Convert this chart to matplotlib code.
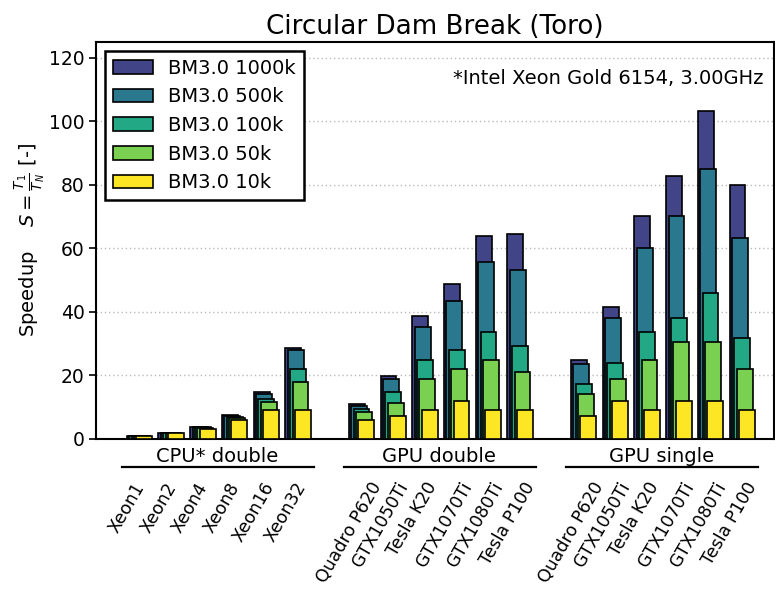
import numpy as np
import matplotlib
matplotlib.use("Agg")
import matplotlib.pyplot as plt

# categories
cpu_labels = ["Xeon1", "Xeon2", "Xeon4", "Xeon8", "Xeon16", "Xeon32"]
gpu_labels = ["Quadro P620", "GTX1050Ti", "Tesla K20", "GTX1070Ti", "GTX1080Ti", "Tesla P100"]
group_names = ["CPU* double", "GPU double", "GPU single"]
tick_labels = cpu_labels + gpu_labels + gpu_labels

series_names = ["BM3.0 1000k", "BM3.0 500k", "BM3.0 100k", "BM3.0 50k", "BM3.0 10k"]

# speedup values (CPU double, GPU double, GPU single)
s1000k = [1.0, 2.0, 3.9, 7.4, 14.7, 28.5, 11.0, 19.9, 38.8, 48.8, 64.0, 64.4,
          24.9, 41.7, 70.1, 82.9, 103.4, 80.1]
s500k = [1.0, 2.0, 3.8, 7.1, 14.3, 27.9, 10.4, 19.0, 35.3, 43.3, 55.8, 53.3,
         23.5, 38.2, 60.1, 70.1, 84.9, 63.4]
s100k = [1.0, 2.0, 3.7, 6.8, 12.7, 22.0, 9.4, 14.7, 25.0, 28.0, 33.8, 29.4,
         17.3, 23.8, 33.7, 38.2, 45.9, 31.9]
s50k = [1.0, 1.9, 3.6, 6.5, 11.7, 18.0, 8.4, 11.2, 19.0, 22.1, 24.9, 21.0,
        14.1, 18.9, 24.8, 30.6, 30.6, 22.1]
s10k = [0.9, 1.9, 3.1, 6.0, 9.0, 9.0, 6.0, 7.1, 9.0, 11.9, 9.0, 9.0,
        7.2, 11.9, 9.0, 11.9, 11.9, 9.0]
all_series = [s1000k, s500k, s100k, s50k, s10k]

# bar positions: 3 groups of 6 with one empty slot between
x = np.concatenate([np.arange(0, 6), np.arange(7, 13), np.arange(14, 20)])
group_start = [0, 7, 14]

colors = plt.cm.viridis(np.linspace(0, 1, 6))[1:]

W, H = 775, 593
fig = plt.figure(figsize=(W / 100, H / 100), dpi=100)
ax = fig.add_axes([96.3 / W, 1 - 439 / H, (774 - 96.3) / W, (439 - 42) / H])

width = 0.5
step = 0.075
for k, (vals, name) in enumerate(zip(all_series, series_names)):
    ax.bar(x + k * step, vals, width=width, align="edge", color=colors[k],
           edgecolor="black", linewidth=1.2, label=name, zorder=3 + k)

ax.set_xlim(-0.96, 20.4)
ax.set_ylim(0, 125)
ax.set_yticks(np.arange(0, 121, 20))
ax.tick_params(axis="y", labelsize=13.5, direction="out", length=5, width=1.2)
for sp in ax.spines.values():
    sp.set_linewidth(1.5)
ax.yaxis.grid(True, linestyle=(0, (1, 2)), color="#bbbbbb", linewidth=1.0)
ax.set_axisbelow(True)
ax.set_ylabel(r"Speedup    $S = \frac{T_1}{T_N}$ [-]", fontsize=14)
ax.yaxis.set_label_coords(-0.073, 0.5)
ax.set_title("Circular Dam Break (Toro)", fontsize=18.8, pad=6)

# device names under the bars
ax.set_xticks(x)
ax.set_xticklabels(tick_labels, rotation=60, fontsize=12.5)
ax.tick_params(axis="x", length=0, pad=29)

ax.text(0.984, 0.894, "*Intel Xeon Gold 6154, 3.00GHz", transform=ax.transAxes,
        ha="right", va="baseline", fontsize=14)

leg = ax.legend(loc="upper left", fontsize=14, fancybox=False, framealpha=1,
                edgecolor="black", borderaxespad=0.45, handlelength=2.05,
                labelspacing=0.5)
leg.get_frame().set_linewidth(1.8)

# group titles with underline
for name, a in zip(group_names, group_start):
    ax.plot([a - 0.15, a + 5.9], [-0.0698, -0.0698], color="black",
            linewidth=1.6, clip_on=False, transform=ax.get_xaxis_transform())
    ax.text(a + 2.85, -0.058, name, ha="center", va="baseline", fontsize=14,
            transform=ax.get_xaxis_transform())

fig.savefig("out.png", dpi=100)
